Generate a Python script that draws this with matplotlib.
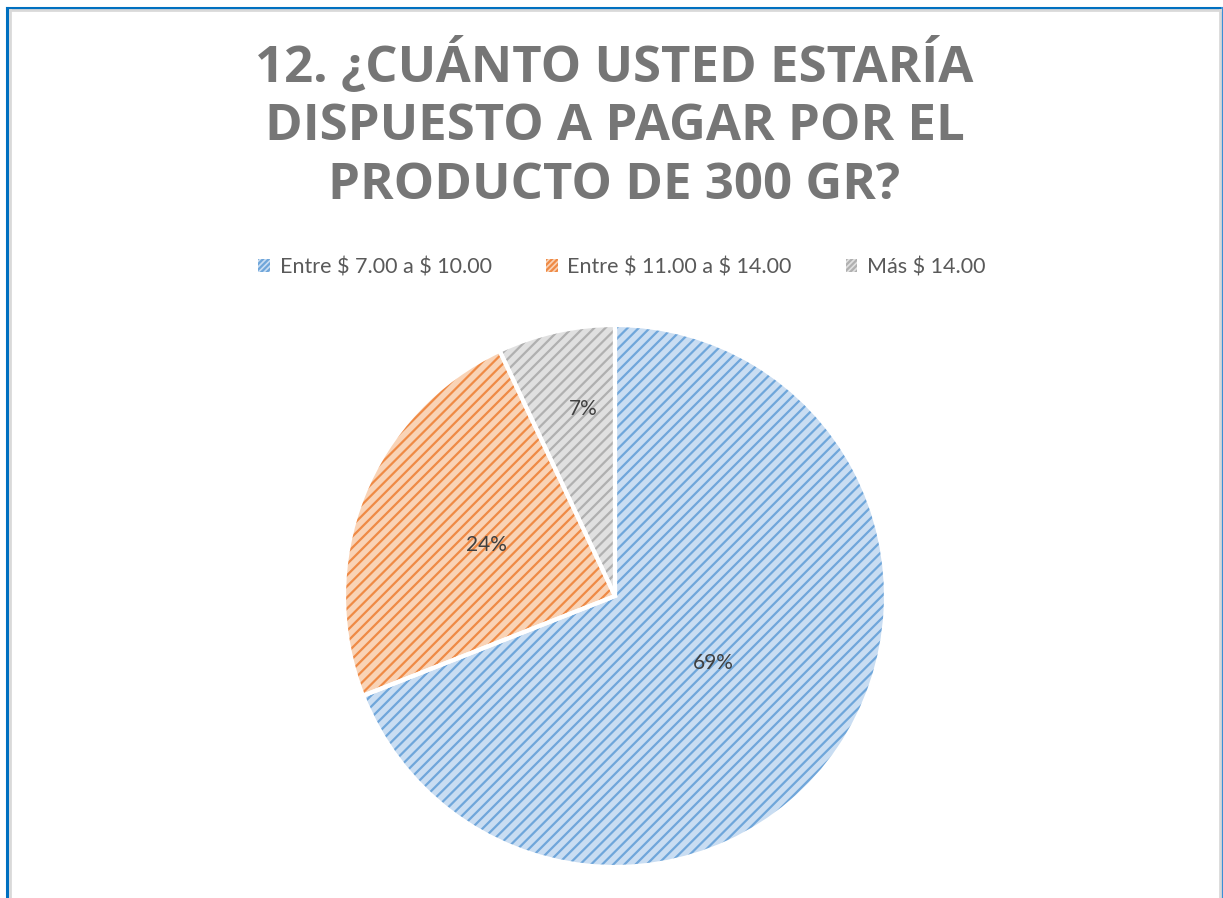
import matplotlib
matplotlib.use("Agg")
import numpy as np
import matplotlib.pyplot as plt
import matplotlib.patches as mpatches
from matplotlib.lines import Line2D

categories = ["Entre $ 7.00 a $ 10.00", "Entre $ 11.00 a $ 14.00", "Más $ 14.00"]
values = [69, 24, 7]
title_lines = ["12. ¿CUÁNTO USTED ESTARÍA", "DISPUESTO A PAGAR POR EL", "PRODUCTO DE 300 GR?"]

light = ["#c9ddf2", "#f9d3b6", "#e0e0e0"]
dark = ["#6fa6da", "#ef8a45", "#b0b0b0"]

W, H = 1223, 898
plt.rcParams["text.parse_math"] = False
plt.rcParams["hatch.linewidth"] = 1.6
fig = plt.figure(figsize=(W / 100, H / 100), dpi=100)
fig.patch.set_facecolor("white")

def fx(x): return x / W
def fy(y): return 1 - y / H

# border
fig.add_artist(Line2D([fx(7), fx(7)], [fy(7.5), 0], color="#0070c0", lw=2.2))
fig.add_artist(Line2D([fx(7), fx(1222)], [fy(7.5), fy(7.5)], color="#0070c0", lw=2.2))
fig.add_artist(Line2D([fx(1222), fx(1222)], [fy(7.5), 0], color="#3c8fd6", lw=2.2))
fig.add_artist(Line2D([fx(9.8), fx(9.8)], [fy(10), 0], color="#d9d9d9", lw=2))
fig.add_artist(Line2D([fx(9.8), fx(1219.5)], [fy(10), fy(10)], color="#d9d9d9", lw=2))
fig.add_artist(Line2D([fx(1219.5), fx(1219.5)], [fy(10), 0], color="#d9d9d9", lw=2))

# title
ys = [66, 127, 186]
for line, y in zip(title_lines, ys):
    fig.text(0.5025, fy(y), line, ha="center", va="center", fontsize=36.6,
             fontweight="bold", color="#767676", family="Open Sans")

# pie
cx, cy, r = 615, 596, 271
ax = fig.add_axes([fx(cx - r), fy(cy + r), 2 * r / W, 2 * r / H])
wedges, texts, autotexts = ax.pie(values, colors=light, startangle=90, counterclock=False,
                                  radius=1, autopct="%d%%", pctdistance=0.6,
                                  wedgeprops=dict(edgecolor="white", linewidth=0))
ax.set_xlim(-1, 1)
ax.set_ylim(-1, 1)
ax.set_aspect("equal")
ax.axis("off")
for w, c in zip(wedges, dark):
    ax.add_patch(mpatches.Wedge(w.center, w.r, w.theta1, w.theta2, facecolor="none",
                                edgecolor=c, hatch="///", linewidth=0))
for w in wedges:
    ax.add_patch(mpatches.Wedge(w.center, w.r, w.theta1, w.theta2, facecolor="none",
                                edgecolor="white", linewidth=3))
label_r = [0.44, 0.51, 0.70]
label_off = [0, 0, -3]
for t, w, lr, off in zip(autotexts, wedges, label_r, label_off):
    ang = np.deg2rad((w.theta1 + w.theta2) / 2 + off)
    t.set_position((lr * np.cos(ang), lr * np.sin(ang)))
    t.set_fontsize(15)
    t.set_color("#404040")
    t.set_family("Lato")
    t.set_zorder(5)

handles = [mpatches.Patch(facecolor=l, edgecolor=d, hatch="//////", linewidth=0)
           for l, d in zip(light, dark)]
leg = fig.legend(handles, categories, loc="center", bbox_to_anchor=(fx(622), fy(267)),
                 ncol=3, frameon=False, handlelength=0.55, handleheight=0.55,
                 handletextpad=0.45, columnspacing=2.5,
                 prop=dict(family="Lato", size=15.5))
for t in leg.get_texts():
    t.set_color("#595959")

fig.savefig("out.png", dpi=100, facecolor="white")
